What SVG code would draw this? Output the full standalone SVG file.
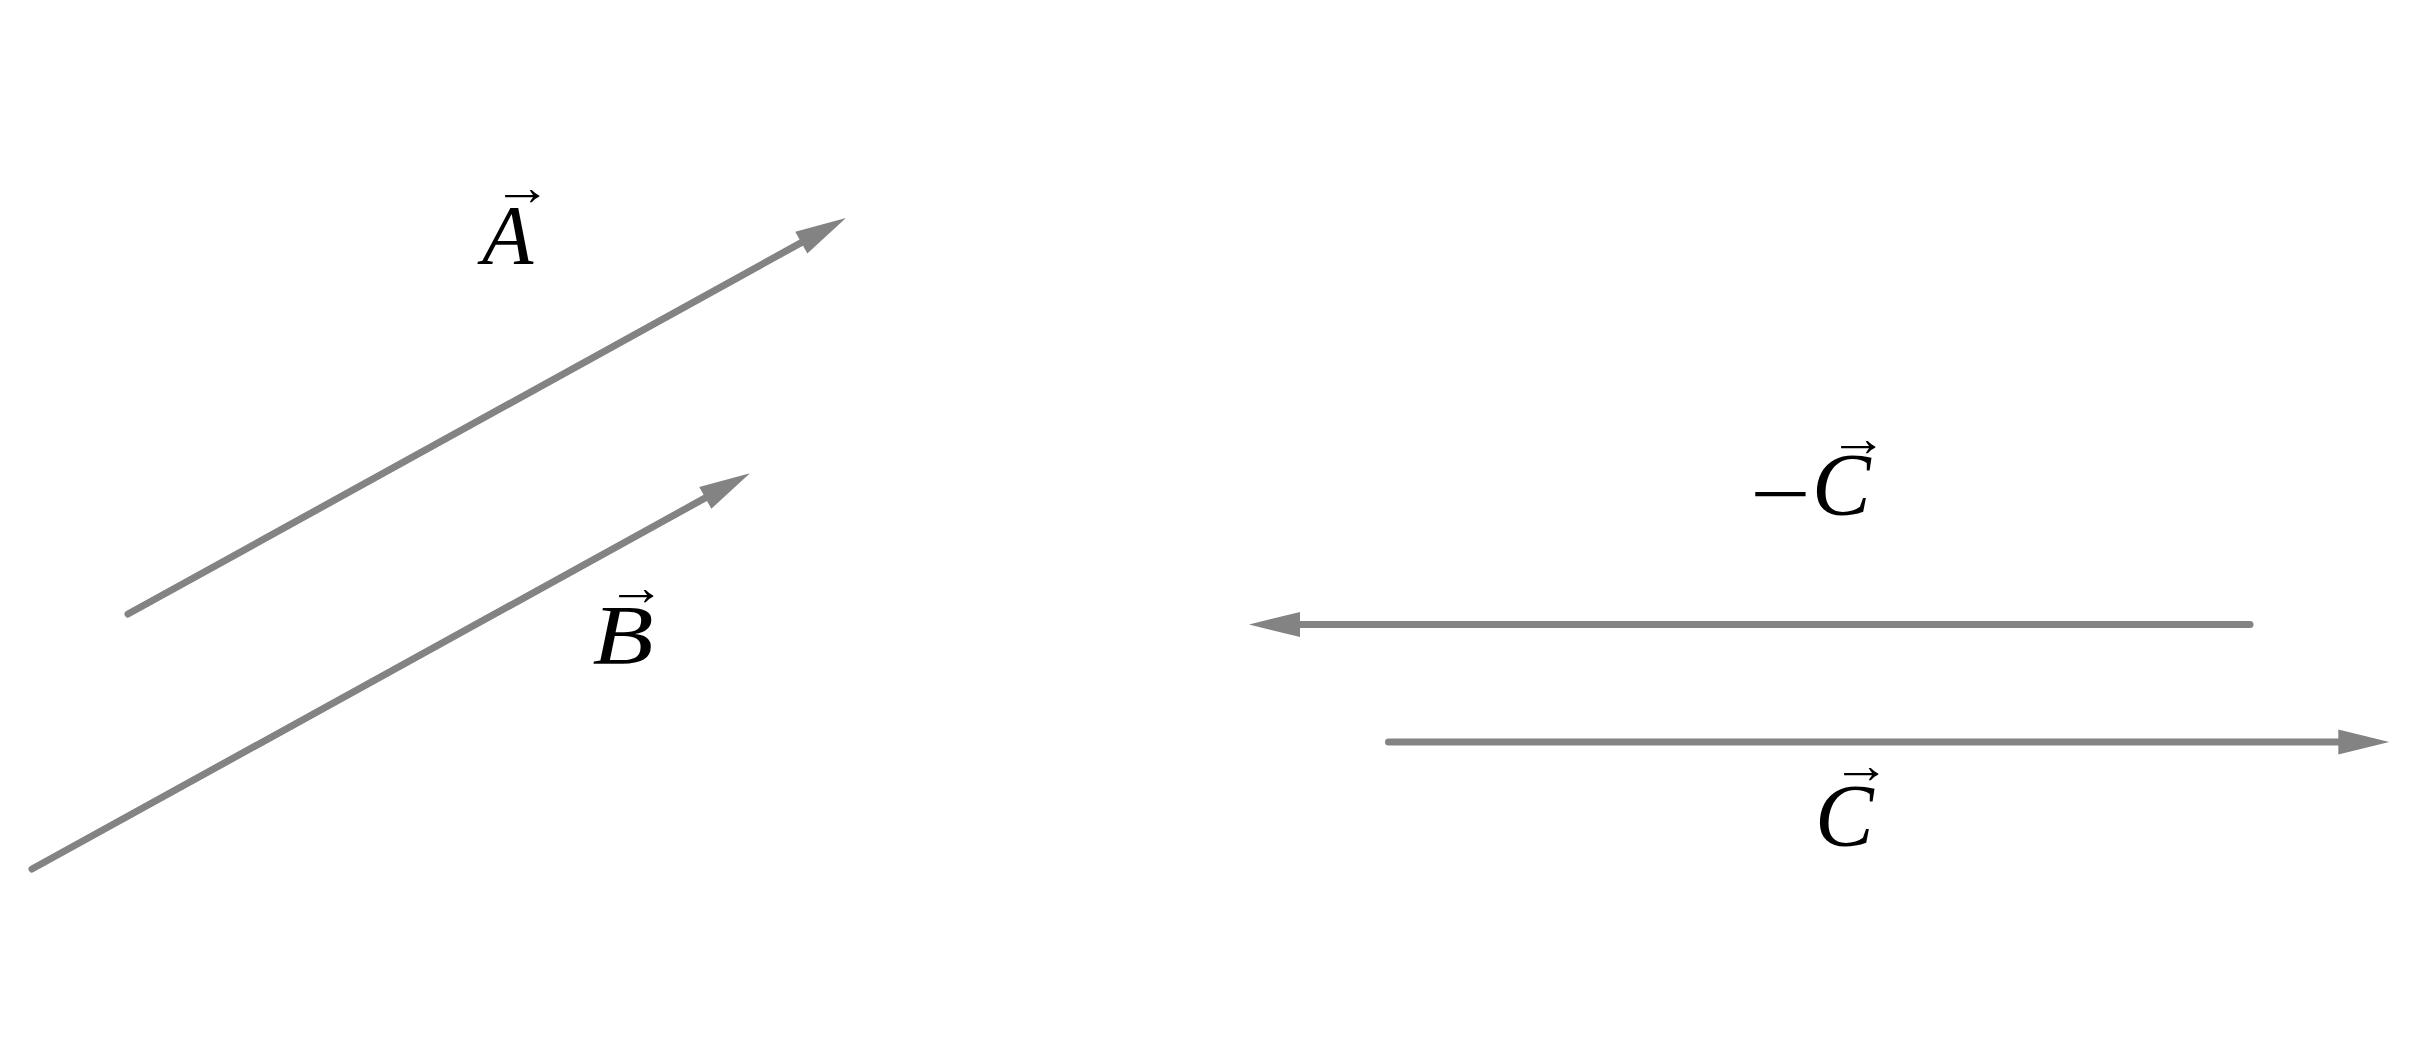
<svg xmlns="http://www.w3.org/2000/svg" width="2412" height="1044" viewBox="0 0 2412 1044">
<style>
.vec{stroke:#838383;stroke-width:7;stroke-linecap:round;fill:none}
.lbl{font-family:"Liberation Serif","DejaVu Serif",serif;font-size:84px;fill:#000}
.it{font-style:italic}
.acc{font-family:"Liberation Serif","DejaVu Serif",serif;font-size:52px;fill:#000}
</style>
<defs>
<marker id="head" markerUnits="userSpaceOnUse" orient="auto" refX="0" refY="0" markerWidth="60" markerHeight="30" overflow="visible">
<path d="M0,-12.5 L51,0 L0,12.5 Z" fill="#838383"/>
</marker>
</defs>
<rect width="2412" height="1044" fill="#fff"/>
<g id="connectors">
<line id="vecA" class="vec" x1="128" y1="614" x2="801.3" y2="242.6" marker-end="url(#head)"/>
<line id="vecB" class="vec" x1="32" y1="869" x2="705.3" y2="497.9" marker-end="url(#head)"/>
<line id="vecNegC" class="vec" x1="2250" y1="624.5" x2="1300" y2="624.5" marker-end="url(#head)"/>
<line id="vecC" class="vec" x1="1388.5" y1="742" x2="2338.3" y2="742" marker-end="url(#head)"/>
</g>
<g id="labelA">
<text class="lbl it" x="482" y="264">A</text>
<text class="acc" x="493" y="205" textLength="58" lengthAdjust="spacingAndGlyphs">→</text>
</g>
<g id="labelB">
<text class="lbl it" x="592.5" y="664" textLength="61" lengthAdjust="spacingAndGlyphs">B</text>
<text class="acc" x="607" y="605" textLength="58" lengthAdjust="spacingAndGlyphs">→</text>
</g>
<g id="labelNegC">
<text class="lbl" x="1750" y="521.7" textLength="61" lengthAdjust="spacingAndGlyphs">−</text>
<text class="lbl it" x="1812" y="514" style="font-size:88px">C</text>
<text class="acc" x="1829" y="456" textLength="58" lengthAdjust="spacingAndGlyphs">→</text>
</g>
<g id="labelC">
<text class="lbl it" x="1815" y="845" style="font-size:88px">C</text>
<text class="acc" x="1832" y="783" textLength="58" lengthAdjust="spacingAndGlyphs">→</text>
</g>
</svg>
